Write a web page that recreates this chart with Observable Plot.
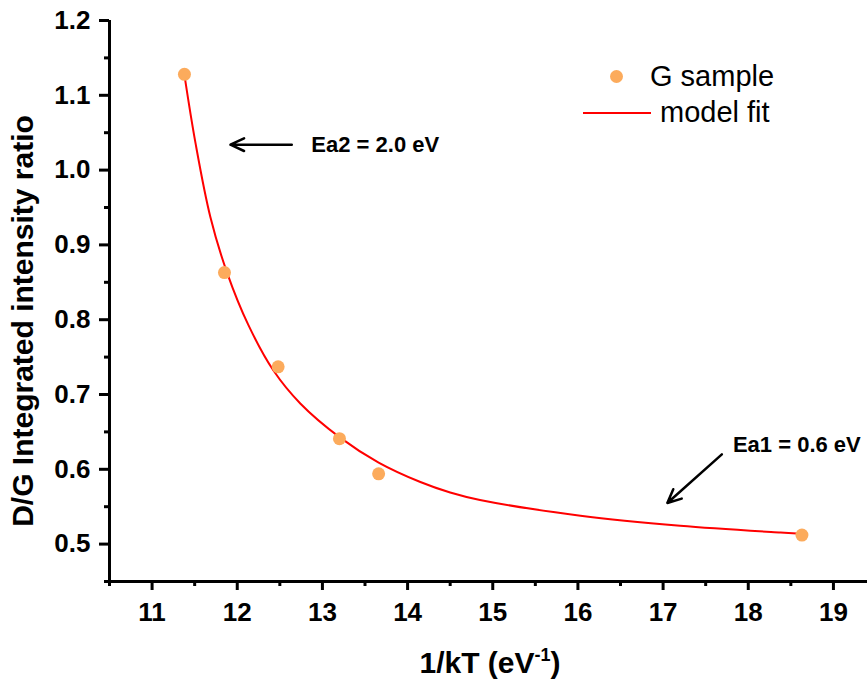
<!DOCTYPE html>
<html><head><meta charset="utf-8">
<script src="https://cdn.jsdelivr.net/npm/d3@7"></script>
<script src="https://cdn.jsdelivr.net/npm/@observablehq/plot@0.6"></script>
<style>
body{margin:0;background:#fff;font-family:"Liberation Sans",Arial,sans-serif;}
#wrap{position:relative;width:867px;height:682px;overflow:hidden;background:#fff;}
#wrap svg{position:absolute;left:0;top:0;}
.lg{position:absolute;font-size:29px;line-height:29px;color:#000;white-space:nowrap;}
.xt{position:absolute;font-size:30px;line-height:30px;font-weight:bold;white-space:nowrap;transform:translateX(-50%);}
.xt sup{font-size:18px;line-height:0;vertical-align:12px;}
</style></head><body><div id="wrap"></div>
<script>
// ---- data ----
const sampleX = [11.38, 11.85, 12.48, 13.20, 13.66, 18.63];
const sampleY = [1.128, 0.863, 0.737, 0.641, 0.594, 0.512];
const fitX = [11.38, 11.51, 11.685, 11.88, 12.13, 12.425, 12.74, 13.20, 13.66, 14.15, 14.50, 14.85, 16.03, 17.20, 18.38, 18.62];
const fitY = [1.127, 1.036, 0.937, 0.863, 0.793, 0.732, 0.688, 0.643, 0.609, 0.583, 0.569, 0.559, 0.538, 0.5245, 0.5155, 0.514];
const xTicks = [11, 12, 13, 14, 15, 16, 17, 18, 19];
const xMinor = [10.5, 11.5, 12.5, 13.5, 14.5, 15.5, 16.5, 17.5, 18.5];
const yTicks = [0.5, 0.6, 0.7, 0.8, 0.9, 1.0, 1.1, 1.2];
const yMinor = [0.45, 0.55, 0.65, 0.75, 0.85, 0.95, 1.05, 1.15];
const annText = ["Ea2 = 2.0 eV", "Ea1 = 0.6 eV"];
const annX = [12.87, 17.82];
const annY = [1.034, 0.632];
const arrowX1 = [12.64, 17.69];
const arrowY1 = [1.034, 0.620];
const arrowX2 = [11.92, 17.05];
const arrowY2 = [1.034, 0.555];
const yTitle = "D/G Integrated intensity ratio";
const seriesNames = ["G sample", "model fit"];

const samples = sampleX.map((x, i) => ({x, y: sampleY[i]}));
const fit = fitX.map((x, i) => ({x, y: fitY[i]}));
const ann = annText.map((t, i) => ({t, x: annX[i], y: annY[i]}));
const arrows = arrowX1.map((x1, i) => ({x1, y1: arrowY1[i], x2: arrowX2[i], y2: arrowY2[i]}));
const fmtY = d3.format(".1f");

const chart = Plot.plot({
  width: 867,
  height: 635,
  marginLeft: 109,
  marginRight: 0,
  marginTop: 20,
  marginBottom: 54,
  style: {fontFamily: '"Liberation Sans", Arial, sans-serif', background: "#fff", overflow: "visible"},
  x: {domain: [10.5, 19.4], label: null},
  y: {domain: [0.45, 1.2], label: null},
  marks: [
    // minor and major tick lines
    Plot.axisX(xMinor, {tickSize: 5, strokeWidth: 3, text: null, label: null}),
    Plot.axisX(xTicks, {tickSize: 9, strokeWidth: 3, text: null, label: null}),
    Plot.axisY(yMinor, {tickSize: 5, strokeWidth: 3, text: null, label: null}),
    Plot.axisY(yTicks, {tickSize: 10, strokeWidth: 3, text: null, label: null}),
    // tick labels
    Plot.text(xTicks, {x: d => d, frameAnchor: "bottom", lineAnchor: "top", dy: 21, text: d => String(d), fontSize: 26, fontWeight: "bold", fill: "#000"}),
    Plot.text(yTicks, {y: d => d, frameAnchor: "left", textAnchor: "end", lineAnchor: "middle", dx: -19, text: d => fmtY(d), fontSize: 26, fontWeight: "bold", fill: "#000"}),
    // axis lines
    Plot.ruleX([10.5], {strokeWidth: 3, stroke: "#000"}),
    Plot.ruleY([0.45], {strokeWidth: 3, stroke: "#000"}),
    Plot.text([yTitle], {frameAnchor: "left", textAnchor: "middle", rotate: -90, dx: -86, dy: 20, fontSize: 30, fontWeight: "bold", fill: "#000"}),
    Plot.line(fit, {x: "x", y: "y", stroke: "#ff0000", strokeWidth: 2, curve: "catmull-rom"}),
    Plot.dot(samples, {x: "x", y: "y", r: 6.5, fill: "#fcab5c", stroke: "none"}),
    Plot.arrow(arrows, {x1: "x1", y1: "y1", x2: "x2", y2: "y2", stroke: "#000", strokeWidth: 2.5, headLength: 9, headAngle: 50}),
    Plot.text(ann, {x: "x", y: "y", text: "t", textAnchor: "start", lineAnchor: "middle", fontSize: 22, fontWeight: "bold", fill: "#000"})
  ]
});
const wrap = document.getElementById("wrap");
wrap.appendChild(chart);

// legend (HTML overlay)
const dot = document.createElement("div");
dot.style.cssText = "position:absolute;left:610px;top:70px;width:13px;height:13px;border-radius:50%;background:#fcab5c;";
wrap.appendChild(dot);
const l1 = document.createElement("div");
l1.className = "lg"; l1.style.left = "650px"; l1.style.top = "62px"; l1.textContent = seriesNames[0];
wrap.appendChild(l1);
const ln = document.createElement("div");
ln.style.cssText = "position:absolute;left:583px;top:112px;width:68px;height:2px;background:#ff0000;";
wrap.appendChild(ln);
const l2 = document.createElement("div");
l2.className = "lg"; l2.style.left = "660px"; l2.style.top = "98px"; l2.textContent = seriesNames[1];
wrap.appendChild(l2);

// x axis title
const xt = document.createElement("div");
xt.className = "xt"; xt.style.left = "490px"; xt.style.top = "648px";
xt.innerHTML = "1/kT (eV<sup>-1</sup>)";
wrap.appendChild(xt);
</script>
</body></html>
